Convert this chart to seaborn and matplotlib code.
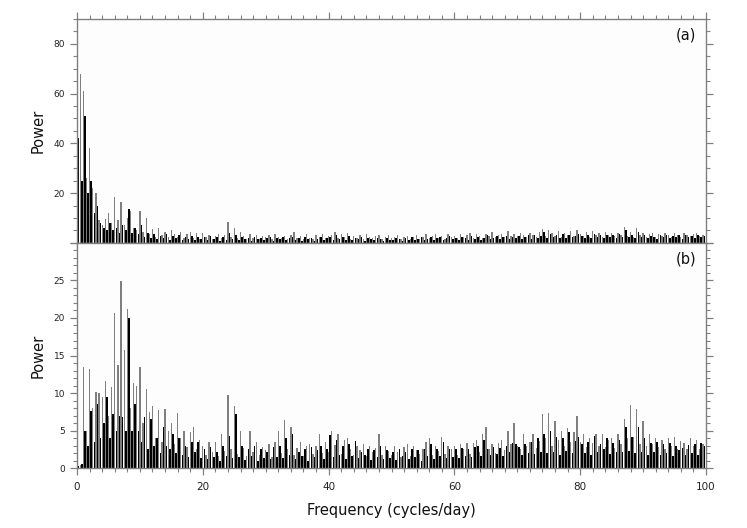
import numpy as np
import pandas as pd
import seaborn as sns
import matplotlib.pyplot as plt
from matplotlib.ticker import MultipleLocator

# frequency grids (cycles/day): gray series on the half-integers, black offset by a quarter
freq_gray = np.arange(0.0, 100.0, 0.5)
freq_black = np.arange(0.25, 100.0, 0.5)

# panel (a)
gray_a = [80, 68, 61, 26, 38, 22, 20, 9, 7, 9.5, 12, 8, 18.5, 9, 16.5, 7, 10, 12.8, 6, 5,
          13, 4.5, 10, 3.5, 5.5, 2.5, 6, 3, 4.5, 2.2, 5, 3.5, 2.4, 4.2, 1.8, 3.6, 4.5, 2, 3.8, 1.6,
          4, 2.2, 3.3, 1.7, 2.8, 3.6, 1.9, 3.1, 8.5, 2.4, 6, 1.8, 4.2, 2.6, 1.5, 3.4, 2.1, 3, 1.6, 2.7,
          2.2, 3.1, 1.4, 3.5, 2.4, 1.8, 2.9, 1.5, 3.2, 4.5, 2, 2.8, 1.6, 3.4, 2.1, 1.7, 3, 2.3, 3.6, 1.8,
          2.6, 3.3, 4.5, 1.9, 3.6, 2.4, 4, 1.6, 2.9, 2, 3.1, 1.5, 3.4, 2.2, 1.8, 2.7, 3.2, 1.4, 2.5, 3,
          1.8, 2.4, 3, 1.5, 2.2, 2.8, 1.6, 2.5, 3.1, 1.7, 2.3, 3.4, 1.9, 2.6, 3.5, 2, 2.9, 1.7, 3.6, 2.3,
          2.9, 1.9, 3.5, 2.4, 3, 4, 2.1, 3.5, 2.6, 1.9, 3.7, 2.8, 4.2, 2.2, 3.1, 3.6, 2.5, 4.6, 2.7, 3.4,
          2.6, 4.1, 3.2, 2.4, 4, 3.3, 2.5, 4.5, 5.6, 2.8, 5, 3.9, 2.7, 4.6, 2.5, 4, 3.1, 4.7, 2.6, 5.2,
          3.6, 2.7, 4.2, 2.4, 4.6, 3, 3.8, 2.3, 4.5, 3.2, 4, 2.6, 4.1, 3.3, 6.5, 2.8, 4.2, 2.5, 6, 3.1,
          4, 2.5, 3.4, 4.1, 2.4, 3.5, 2.7, 4, 3.2, 2.5, 3.9, 3.1, 2.4, 3.8, 3.3, 2.6, 3.5, 4, 2.6, 3.3]
black_a = [42, 25, 51, 20, 25, 12, 15, 8, 6, 5, 8, 5, 6, 4, 7, 5, 13.5, 4, 6, 3.5,
           7, 2.5, 4, 1.8, 3.6, 1.5, 2.8, 2, 3.5, 1.2, 2.7, 1.9, 3, 1.1, 2.4, 1.6, 2.9, 1.2, 2.2, 1.4,
           2.5, 1.1, 2.8, 1.5, 2.2, 0.9, 2.5, 1.3, 4, 1.6, 3, 1, 2.4, 1.4, 2, 0.9, 2.3, 1.5, 1.9, 1,
           1.8, 2.3, 0.9, 2, 1.4, 2.5, 1, 1.9, 2.4, 1.2, 2, 0.8, 2.3, 1.5, 1.9, 0.9, 1.7, 2.4, 1.1, 2,
           2.5, 1.2, 3, 1.6, 2.4, 1.1, 2.8, 1.3, 2, 1.5, 2.3, 0.9, 2, 1.4, 1.1, 2.1, 1.5, 0.9, 2, 1.3,
           1, 2, 1.4, 0.9, 2.1, 1.3, 2.4, 1, 1.7, 2.2, 1, 1.6, 2.4, 1.2, 2.1, 2.5, 1.3, 2, 2.7, 1.4,
           2.1, 1.2, 2.4, 1.8, 1.3, 2.8, 1.5, 2.4, 1.2, 2, 3, 1.7, 2.1, 2.8, 1.5, 2.4, 2.8, 1.4, 2.5, 1.8,
           2.8, 1.5, 2.4, 3, 1.7, 3.2, 2, 2.9, 4.5, 1.9, 3.5, 2.3, 3, 1.8, 3.5, 2, 3.2, 2.2, 2.8, 3.5,
           2.7, 2, 3.2, 1.8, 3.5, 2.2, 3, 1.9, 3.2, 2.4, 3, 1.8, 3.5, 2.3, 5.2, 2.2, 3.2, 2, 4.5, 2.3,
           3, 1.8, 2.9, 2.4, 1.7, 3, 2.2, 3.2, 1.8, 2.8, 2.4, 3, 1.7, 3.2, 2.3, 2.9, 1.8, 3, 2.2, 2.8]

# panel (b)
gray_b = [0.3, 0.4, 13.5, 5, 13.2, 8, 10.2, 10, 9.5, 11.6, 7, 10.8, 20.7, 13.7, 24.9, 15.8, 21.2, 8, 11.3, 11,
          13.5, 6, 10.5, 7.5, 8.3, 4, 7.7, 3.5, 7.9, 5, 6, 3.2, 7.4, 4, 5, 2.8, 4.8, 5.5, 2.5, 3.8,
          3, 1.8, 3.5, 2.2, 3.5, 1.6, 4.5, 2.3, 9.8, 2.6, 8.3, 1.9, 5, 2.7, 1.6, 5, 2.2, 3.5, 1.7, 2.8,
          2.4, 3.2, 1.5, 3.5, 5, 2, 6.4, 2.5, 5.5, 1.8, 2.7, 3.5, 1.6, 3, 3.2, 1.9, 3, 4.5, 2, 3.5,
          2.2, 5, 3.1, 4.5, 1.9, 3.8, 4, 2.5, 1.8, 3, 2.4, 3.2, 1.6, 3, 2.1, 2.7, 4.6, 1.8, 3, 2.3,
          1.7, 3, 2.2, 1.5, 2.8, 3.2, 1.6, 3, 2.4, 1.9, 2.6, 3.5, 4, 1.8, 3, 2.3, 4.2, 1.9, 3, 2.5,
          3, 1.8, 3.2, 2.5, 3.4, 1.9, 3.3, 3.8, 2.2, 4.6, 5.5, 2.5, 3.2, 2, 3.3, 3.7, 2.4, 5, 3.2, 6,
          3, 2.6, 4.5, 3, 3.5, 4.5, 2.7, 3.6, 7.2, 4, 7.3, 3, 6.3, 3.8, 5, 2.9, 5.4, 3.5, 4.8, 7,
          3.5, 4.5, 2.8, 4, 3.4, 4.5, 3, 4.5, 2.8, 3.7, 4, 2.7, 4.5, 3.2, 6.6, 4, 8.4, 4.2, 7.9, 3.2,
          6.3, 2.9, 4.5, 3.2, 4, 2.8, 3.8, 2.6, 4, 3, 4.2, 2.6, 3.6, 3.3, 2.5, 4, 3, 3.8, 2.6, 3.2]
black_b = [0.3, 0.5, 5, 3, 7.6, 3.5, 8.5, 4, 6, 9.5, 4, 7.2, 5, 7, 6.8, 5, 20, 5, 8.5, 5,
           3.5, 6.8, 2.5, 6.5, 3, 4, 2, 5.5, 3, 2.5, 4.5, 2, 4, 1.8, 3, 1.5, 3.5, 2.2, 3.5, 1.4,
           2.5, 1.2, 2.8, 1.5, 2.2, 1, 3, 1.6, 4.3, 1.3, 7.2, 1.5, 3, 1.1, 2.5, 1.6, 3, 1, 2.5, 1.4,
           2.2, 1.2, 2.8, 1.5, 3, 1.3, 4, 1.8, 4.5, 1.2, 2.2, 1.6, 2.5, 1, 2.8, 1.5, 2.4, 3, 1.2, 2.6,
           4.4, 1.5, 3.8, 1.8, 3, 1.2, 3.2, 1.6, 3.6, 1.3, 2.2, 1.7, 2.5, 1.1, 2.4, 1.5, 3, 1.2, 2.4, 1.4,
           2.2, 1.1, 2.5, 1.6, 2.1, 1.2, 2.6, 1.5, 2.4, 1, 2.5, 1.6, 3.2, 1.2, 2.5, 1.6, 3.5, 1.3, 2.6, 1.5,
           2.5, 1.4, 2.7, 1.6, 2.6, 1.5, 2.8, 3, 1.6, 3.8, 2.5, 1.7, 2.8, 1.9, 2.7, 1.6, 3, 2.1, 3.3, 3.2,
           2.8, 1.8, 3.2, 2, 3.5, 1.9, 4, 2.1, 4.5, 2, 5, 2.2, 4.2, 1.8, 4, 2.3, 4.8, 2, 3.6, 4.2,
           3.2, 2, 3.5, 1.8, 4.3, 2.1, 3.2, 2.6, 4, 1.9, 3.3, 2.2, 3.8, 2.1, 5.5, 2.3, 4.2, 2, 5.5, 2.2,
           4, 1.8, 3.3, 2.1, 3.5, 1.7, 3.2, 2, 3.3, 1.6, 3, 2.4, 2.7, 1.7, 3.1, 2, 3.2, 1.8, 3.3, 2.9]

sns.set_style("white")
plt.rcParams['font.family'] = ['DejaVu Sans']

axis_gray = '#808080'
fig = plt.figure(figsize=(7.47, 5.28), dpi=100)
ax_a = fig.add_axes([0.1031, 0.540, 0.842, 0.4242])
ax_b = fig.add_axes([0.1031, 0.1136, 0.842, 0.4262])

panels = [(ax_a, gray_a, black_a, 90, 20, 5, '(a)'),
          (ax_b, gray_b, black_b, 30, 5, 1, '(b)')]

for ax, gvals, bvals, ytop, ymaj, ymin, tag in panels:
    sns.barplot(x=freq_gray, y=gvals, native_scale=True, width=0.42, color='#7f7f7f',
                saturation=1, linewidth=0, ax=ax)
    sns.barplot(x=freq_black, y=bvals, native_scale=True, width=0.5, color='black',
                saturation=1, linewidth=0, ax=ax)
    ax.set_facecolor('#fdfdfd')
    ax.set_xlim(0, 100)
    ax.set_ylim(0, ytop)
    ax.xaxis.set_major_locator(MultipleLocator(20))
    ax.xaxis.set_minor_locator(MultipleLocator(2))
    ax.yaxis.set_major_locator(MultipleLocator(ymaj))
    ax.yaxis.set_minor_locator(MultipleLocator(ymin))
    for sp in ax.spines.values():
        sp.set_visible(True)
        sp.set_color(axis_gray)
        sp.set_linewidth(1.0)
    ax.tick_params(which='both', direction='out', colors=axis_gray, labelcolor='#222222',
                   labelsize=6.5, left=True, right=True)
    ax.tick_params(which='major', length=5, width=0.9)
    ax.tick_params(which='minor', length=3, width=0.8)
    ax.set_ylabel('Power', fontsize=10.5, color='#111111', labelpad=6)
    ax.text(0.985, 0.93, tag, transform=ax.transAxes, ha='right', va='center',
            fontsize=10.5, color='#111111')

ax_a.tick_params(axis='x', which='both', top=True, bottom=True, labelbottom=False)
ax_a.set_yticks([0, 20, 40, 60, 80], ['', '20', '40', '60', '80'])
ax_a.set_xlabel('')
ax_b.set_yticks([0, 5, 10, 15, 20, 25, 30], ['0', '5', '10', '15', '20', '25', ''])
ax_b.tick_params(axis='x', which='both', top=False, bottom=True)
ax_b.tick_params(axis='x', labelsize=7.5, pad=5)
ax_b.set_xlabel('Frequency (cycles/day)', fontsize=10.5, color='#111111', labelpad=8)

fig.savefig('out.png', dpi=100, facecolor='white')
